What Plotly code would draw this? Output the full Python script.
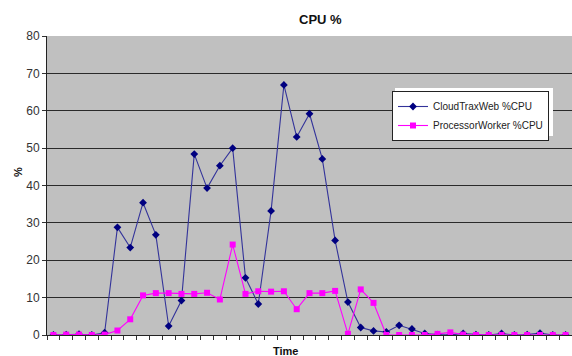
import plotly.graph_objects as go

time_index = list(range(41))
cloudtraxweb_cpu = [0, 0.1, 0.2, 0, 0.6, 28.8, 23.4, 35.4, 26.8, 2.4, 9.2, 48.4, 39.3, 45.3, 50.0,
                    15.3, 8.3, 33.2, 66.9, 53.0, 59.2, 47.1, 25.3, 8.8, 2.0, 1.1, 0.8, 2.6, 1.6, 0.4,
                    0.1, 0.0, 0.4, 0.1, 0.0, 0.4, 0.0, 0.1, 0.5, 0.0, 0.0]
processorworker_cpu = [0, 0.1, 0.1, 0, 0.1, 1.2, 4.2, 10.6, 11.2, 11.2, 11.0, 11.0, 11.3, 9.5, 24.2,
                       11.0, 11.7, 11.6, 11.7, 6.9, 11.2, 11.2, 11.8, 0.3, 12.2, 8.6, 0.0, 0.0, 0.0, 0.0,
                       0.3, 0.7, 0.1, 0.0, 0.0, 0.0, 0.0, 0.0, 0.0, 0.0, 0.0]
y_ticks = [0, 10, 20, 30, 40, 50, 60, 70, 80]

fig = go.Figure()
fig.add_trace(go.Scatter(
    x=time_index, y=cloudtraxweb_cpu, name="CloudTraxWeb %CPU", mode="lines+markers",
    line=dict(color="#33339A", width=1.1),
    marker=dict(symbol="diamond", size=6, color="#000080"),
))
fig.add_trace(go.Scatter(
    x=time_index, y=processorworker_cpu, name="ProcessorWorker %CPU", mode="lines+markers",
    line=dict(color="#FF00FF", width=1.1),
    marker=dict(symbol="square", size=6, color="#FF00FF"),
))

L, T, B = 47, 36, 21
W, H = 572, 356
pw, ph = W - L, H - T - B

def px(xp):
    return (xp - L) / pw

def py(yp):
    return (H - B - yp) / ph

fig.update_layout(
    width=W, height=H,
    margin=dict(l=L, r=0, t=T, b=B, pad=0),
    paper_bgcolor="white", plot_bgcolor="#C0C0C0",
    font=dict(family="Arial, Liberation Sans, sans-serif", size=11, color="#222"),
    showlegend=True,
    legend=dict(x=px(549), y=py(91), xanchor="right", yanchor="top",
                bgcolor="white", bordercolor="#222", borderwidth=1,
                font=dict(size=10, color="#222"), tracegroupgap=0,
                itemwidth=30),
    xaxis=dict(range=[-0.5, 40.5], tickmode="array",
               tickvals=[i - 0.5 for i in range(42)], ticktext=[""] * 42,
               ticks="outside", ticklen=4, tickcolor="#333", tickwidth=1,
               showgrid=False, zeroline=False, showline=True, linecolor="#222", linewidth=1),
    yaxis=dict(range=[0, 80], tickvals=y_ticks, ticks="outside", ticklen=4,
               tickcolor="#333", tickwidth=1,
               showgrid=True, gridcolor="#2a2a2a", gridwidth=1, zeroline=False,
               showline=True, linecolor="#222", linewidth=1,
               tickfont=dict(size=12, color="#333")),
    shapes=[dict(type="rect", xref="paper", yref="paper", x0=px(395), x1=px(553),
                 y0=py(136), y1=py(88), fillcolor="white", line=dict(width=0), layer="above")],
    annotations=[
        dict(text="<b>CPU %</b>", xref="paper", yref="paper", x=px(320), y=py(19),
             xanchor="center", yanchor="middle", showarrow=False, font=dict(size=13, color="#111")),
        dict(text="<b>Time</b>", xref="paper", yref="paper", x=px(285), y=py(351),
             xanchor="center", yanchor="middle", showarrow=False, font=dict(size=11, color="#111")),
        dict(text="<b>%</b>", xref="paper", yref="paper", x=px(18), y=py(172),
             xanchor="center", yanchor="middle", showarrow=False, textangle=-90,
             font=dict(size=11, color="#111")),
    ],
)

fig.write_html("out.html", config={"displayModeBar": False},
               post_script="document.body.style.margin='0';document.body.style.overflow='hidden';")
